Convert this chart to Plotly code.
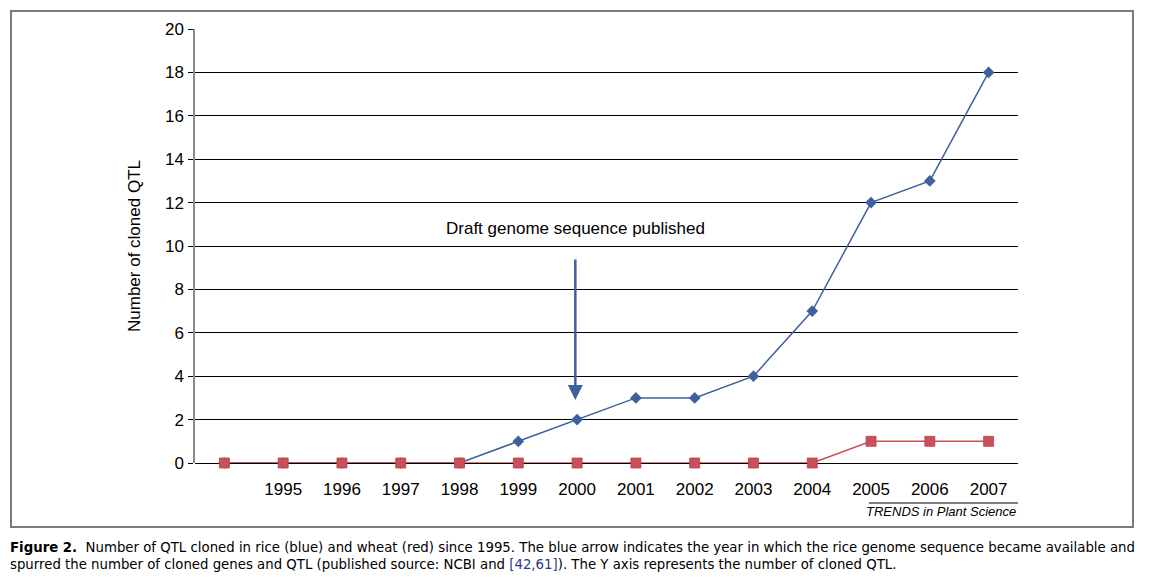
import plotly.graph_objects as go

# данные
years = ["", "1995", "1996", "1997", "1998", "1999", "2000", "2001",
         "2002", "2003", "2004", "2005", "2006", "2007"]
rice = [0, 0, 0, 0, 0, 1, 2, 3, 3, 4, 7, 12, 13, 18]
wheat = [0, 0, 0, 0, 0, 0, 0, 0, 0, 0, 0, 1, 1, 1]
y_ticks = [0, 2, 4, 6, 8, 10, 12, 14, 16, 18, 20]

blue = "#3e609c"
red = "#c8505a"
font = "Liberation Sans, Arial, sans-serif"

pos = list(range(len(years)))

fig = go.Figure()

# рис (синий)
fig.add_trace(go.Scatter(
    x=pos, y=rice, mode="lines+markers", cliponaxis=False,
    line=dict(color=blue, width=1.5),
    marker=dict(symbol="diamond", size=9, color=blue),
    showlegend=False))

# пшеница (красный)
fig.add_trace(go.Scatter(
    x=pos, y=wheat, mode="lines+markers", cliponaxis=False,
    line=dict(color=red, width=1.5),
    marker=dict(symbol="square", size=10, color=red,
                line=dict(color="#b8404c", width=0.8)),
    showlegend=False))

fig.update_xaxes(
    range=[-0.5, len(years) - 0.5],
    tickvals=pos, ticktext=years,
    showgrid=False, zeroline=False, showline=False,
    ticks="", ticklabelstandoff=14,
    tickfont=dict(size=17, color="black", family=font))

fig.update_yaxes(
    range=[0, 20], tickvals=y_ticks,
    showgrid=True, gridcolor="black", gridwidth=1,
    zeroline=True, zerolinecolor="black", zerolinewidth=1,
    showline=True, linecolor="#8a8a8a", linewidth=1.5,
    ticks="outside", ticklen=5, tickcolor="black", ticklabelstandoff=1,
    tickfont=dict(size=17, color="black", family=font),
    title=dict(text="Number of cloned QTL", standoff=20,
               font=dict(size=17, color="black", family=font)))

# стрелка и подпись
fig.add_annotation(x=5.97, y=2.9, xref="x", yref="y", text="",
                   showarrow=True, ax=0, ay=-142,
                   arrowhead=2, arrowsize=1.2, arrowwidth=2.5, arrowcolor=blue)
fig.add_annotation(x=5.97, y=10.8, xref="x", yref="y",
                   text="Draft genome sequence published", showarrow=False,
                   font=dict(size=17, color="black", family=font))

# рамка вокруг рисунка
fig.add_shape(type="rect", xref="paper", yref="paper",
              x0=-0.2236, x1=1.1397, y0=-0.1475, y1=1.0415,
              line=dict(color="#7a7a7a", width=2), layer="below")

# источник
fig.add_shape(type="line", xref="paper", yref="paper",
              x0=(869 - 195) / 823, x1=1.0, y0=(463 - 503) / 434, y1=(463 - 503) / 434,
              line=dict(color="black", width=1))
fig.add_annotation(x=1.0, y=(463 - 512) / 434, xref="paper", yref="paper",
                   xanchor="right", yanchor="middle", showarrow=False,
                   text="<i>TRENDS in Plant Science</i>",
                   font=dict(size=13, color="black", family=font))

# подпись к рисунку
caption = ("<b>Figure 2.</b>  Number of QTL cloned in rice (blue) and wheat (red) since 1995. "
           "The blue arrow indicates the year in which the rice genome sequence became available and<br>"
           "spurred the number of cloned genes and QTL (published source: NCBI and "
           "<span style='color:#2b3a8f'>[42,61]</span>). The Y axis represents the number of cloned QTL.")
fig.add_annotation(x=(8 - 195) / 823, y=(463 - 538) / 434, xref="paper", yref="paper",
                   xanchor="left", yanchor="top", align="left", showarrow=False,
                   text=caption,
                   font=dict(size=13.3, color="black", family="DejaVu Sans, sans-serif"))

# сдвиг на 8px компенсирует отступ body в браузере
fig.update_layout(
    width=1156, height=586,
    margin=dict(l=187, r=146, t=21, b=131),
    plot_bgcolor="white", paper_bgcolor="white",
    font=dict(family=font))

fig.write_html("out.html")
